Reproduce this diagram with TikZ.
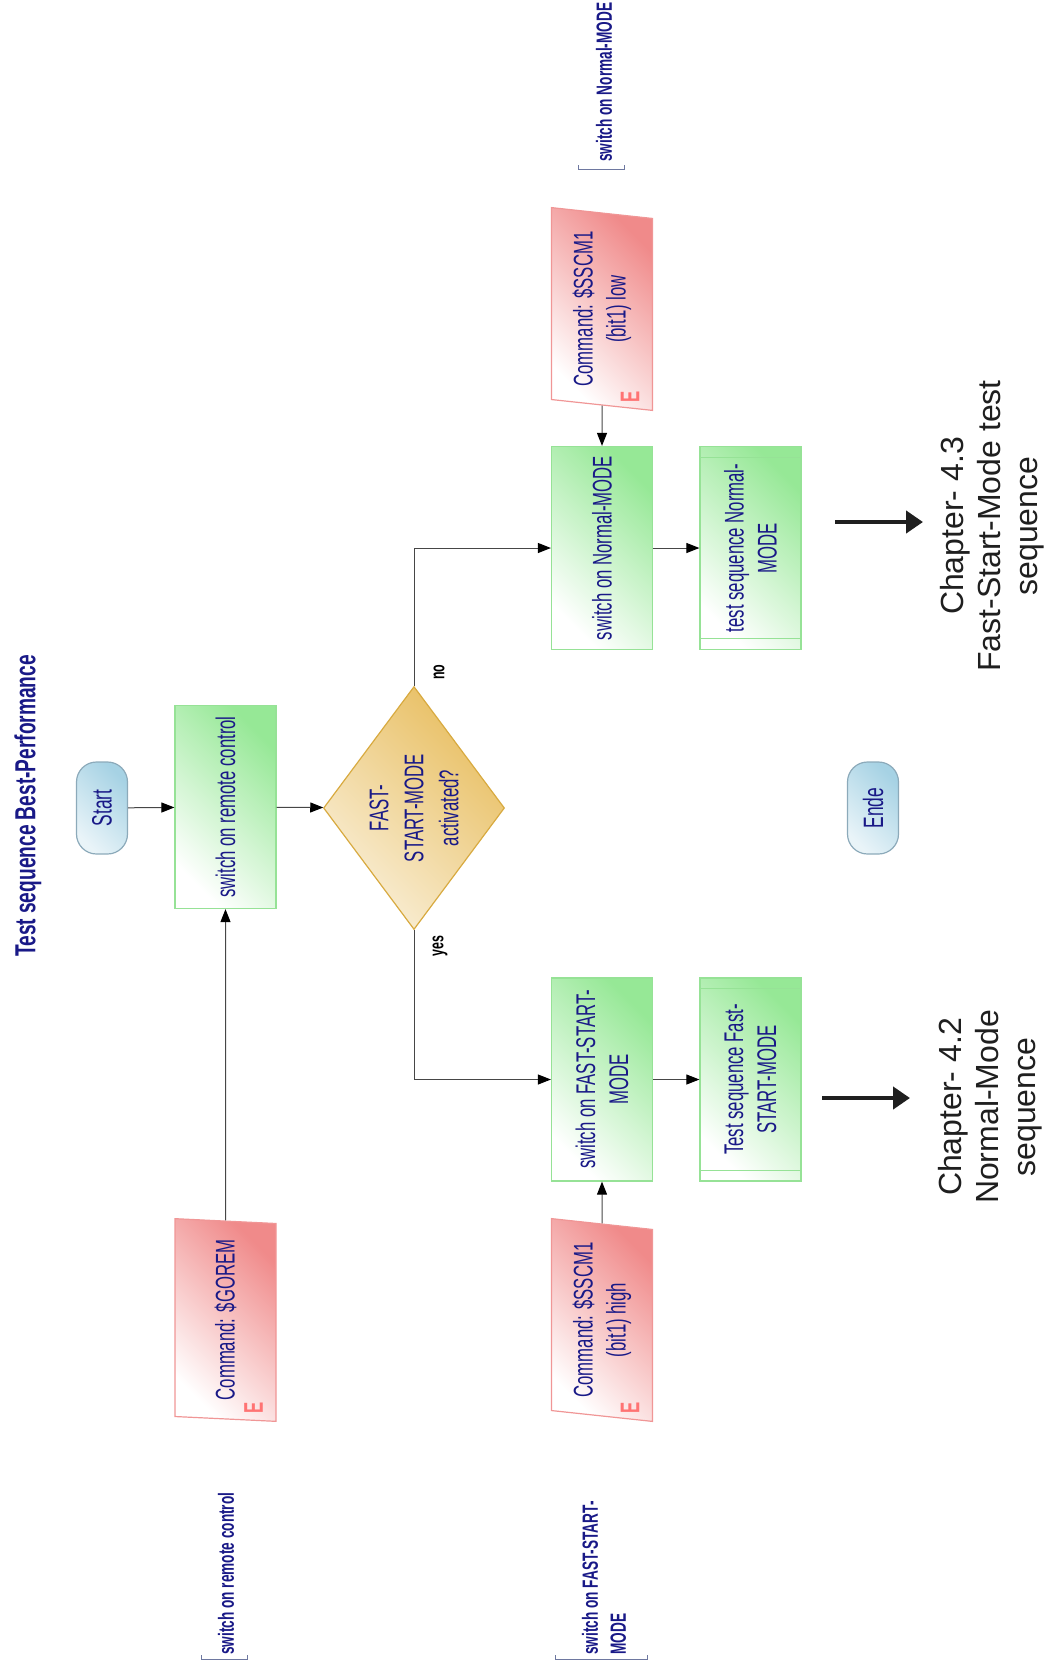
\documentclass[tikz,border=0pt]{standalone}
\usepackage{fontspec}
\setmainfont{Liberation Sans}
\newfontfamily\narrowfont[FakeStretch=0.62]{Liberation Sans}
\newfontfamily\titlefont[FakeStretch=0.66]{Liberation Sans}
\usepackage{xcolor}
\usetikzlibrary{calc}
\usetikzlibrary{arrows.meta}
\usetikzlibrary{shapes.geometric}

\definecolor{navy}{RGB}{25,25,135}
\definecolor{greenfill}{RGB}{150,232,150}
\definecolor{greenedge}{RGB}{150,226,150}
\definecolor{redfill}{RGB}{240,138,138}
\definecolor{rededge}{RGB}{240,150,150}
\definecolor{goldfill}{RGB}{232,190,96}
\definecolor{goldedge}{RGB}{216,170,64}
\definecolor{bluefill}{RGB}{166,210,228}
\definecolor{blueedge}{RGB}{140,170,186}
\definecolor{lineg}{RGB}{70,70,70}
\definecolor{annoline}{RGB}{110,120,160}

\begin{document}
\begin{tikzpicture}[x=1pt,y=1pt]

\tikzset{
    box/.style = {
    rotate=90,
    minimum width=203pt,
    minimum height=101pt,
    inner sep=3pt,
    align=center,
    text=navy,
    line width=1.2pt,
    font=\narrowfont\fontsize{27}{33}\selectfont
    }
}

\tikzstyle{action}=[draw=greenedge, left color=white, right color=greenfill, shading angle=135, box]
\tikzstyle{command}=[trapezium, trapezium left angle=81.5, trapezium right angle=98.5, trapezium stretches=true, draw=rededge, left color=white, right color=redfill, shading angle=135, box]
\tikzstyle{decision}=[diamond, aspect=1.34, inner sep=0pt, draw=goldedge, left color=goldfill!25!white, right color=goldfill, shading angle=135, box, minimum width=243pt, minimum height=181pt, font=\narrowfont\fontsize{27}{35}\selectfont]
\tikzstyle{terminal}=[rounded corners=20pt, draw=blueedge, left color=bluefill!25!white, right color=bluefill, shading angle=135, box, minimum width=92pt, minimum height=51pt, font=\narrowfont\fontsize{28}{33}\selectfont]
\tikzstyle{emark}=[rotate=90, inner sep=0pt, text=red!55, font=\narrowfont\bfseries\fontsize{27}{27}\selectfont]
\tikzstyle{anno}=[rotate=90, anchor=west, inner sep=0pt, align=left, text=navy, font=\narrowfont\bfseries\fontsize{22}{28}\selectfont]
\tikzstyle{branch}=[rotate=90, inner sep=0pt, font=\narrowfont\bfseries\fontsize{20}{20}\selectfont]
\tikzstyle{chapter}=[rotate=90, inner sep=0pt, align=center, text=black!88, font=\fontsize{32}{37}\selectfont]
\tikzstyle{flow}=[lineg, line width=1pt, -{Triangle[length=13pt,width=10pt,color=black]}]

\useasboundingbox (0,0) rectangle (1064,-1663);

\node (title) [rotate=90, text=navy, font=\titlefont\bfseries\fontsize{29}{29}\selectfont] at (28,-806) {Test sequence Best-Performance};

\node (start) [terminal] at (102,-808) {Start};
\node (remote) [action] at (225.5,-807) {switch on remote control};
\node (gorem) [command] at (225.5,-1320) {Command: \$GOREM};
\node (dia) [decision] at (414,-808) {FAST-\\START-MODE\\activated?};

\node (normal) [action] at (602,-548) {switch on Normal-MODE};
\node (tnormal) [action] at (750.5,-548) {test sequence Normal-\\MODE};
\node (sscmlow) [command] at (602,-309) {Command: \$SSCM1\\(bit1) low};

\node (fast) [action] at (602,-1079.5) {switch on FAST-START-\\MODE};
\node (tfast) [action] at (750.5,-1079.5) {Test sequence Fast-\\START-MODE};
\node (sscmhigh) [command] at (602,-1320) {Command: \$SSCM1\\(bit1) high};

\node (ende) [terminal] at (873,-808) {Ende};

\foreach \n in {tnormal,tfast}{
    \draw[greenedge, line width=1pt] ($(\n.north west)!0.055!(\n.north east)$) -- ($(\n.south west)!0.055!(\n.south east)$);
    \draw[greenedge, line width=1pt] ($(\n.north west)!0.945!(\n.north east)$) -- ($(\n.south west)!0.945!(\n.south east)$);
}

\foreach \n in {gorem,sscmlow,sscmhigh}{
    \node (\n-e) [emark] at ($(\n.center)+(28,-88)$) {E};
}

\draw[flow] (start) -- (remote);
\draw[flow] (gorem) -- (remote);
\draw[flow] (remote) -- (dia);
\draw[flow] (dia.east) |- (normal);
\draw[flow] (dia.west) |- (fast);
\draw[flow] (normal) -- (tnormal);
\draw[flow] (fast) -- (tfast);
\draw[flow] (sscmlow) -- (normal);
\draw[flow] (sscmhigh) -- (fast);

\node (no) [branch] at (439,-672) {no};
\node (yes) [branch] at (440,-946) {yes};

% chapter references
\coordinate (c43a) at (835,-522);
\coordinate (c43b) at (923,-522);
\coordinate (c42a) at (822,-1098);
\coordinate (c42b) at (910,-1098);
\draw[black!88, line width=4.5pt, -{Triangle[length=17pt,width=22pt]}] (c43a) -- (c43b);
\draw[black!88, line width=4.5pt, -{Triangle[length=17pt,width=22pt]}] (c42a) -- (c42b);
\node (chap43) [chapter] at (992,-526) {Chapter- 4.3\\Fast-Start-Mode test\\sequence};
\node (chap42) [chapter] at (990,-1107) {Chapter- 4.2\\Normal-Mode\\sequence};

% annotations
\node (anno1) [anno] at (226,-1655) {switch on remote control};
\node (anno2) [anno] at (604,-1655) {switch on FAST-START-\\MODE};
\node (anno3) [anno] at (604,-162) {switch on Normal-MODE};
\draw[annoline, line width=1pt] (201,-1655) -- (201,-1659) -- (247,-1659) -- (247,-1655);
\draw[annoline, line width=1pt] (555,-1655) -- (555,-1659) -- (647,-1659) -- (647,-1655);
\draw[annoline, line width=1pt] (578,-165) -- (578,-169) -- (624,-169) -- (624,-165);

\end{tikzpicture}
\end{document}
